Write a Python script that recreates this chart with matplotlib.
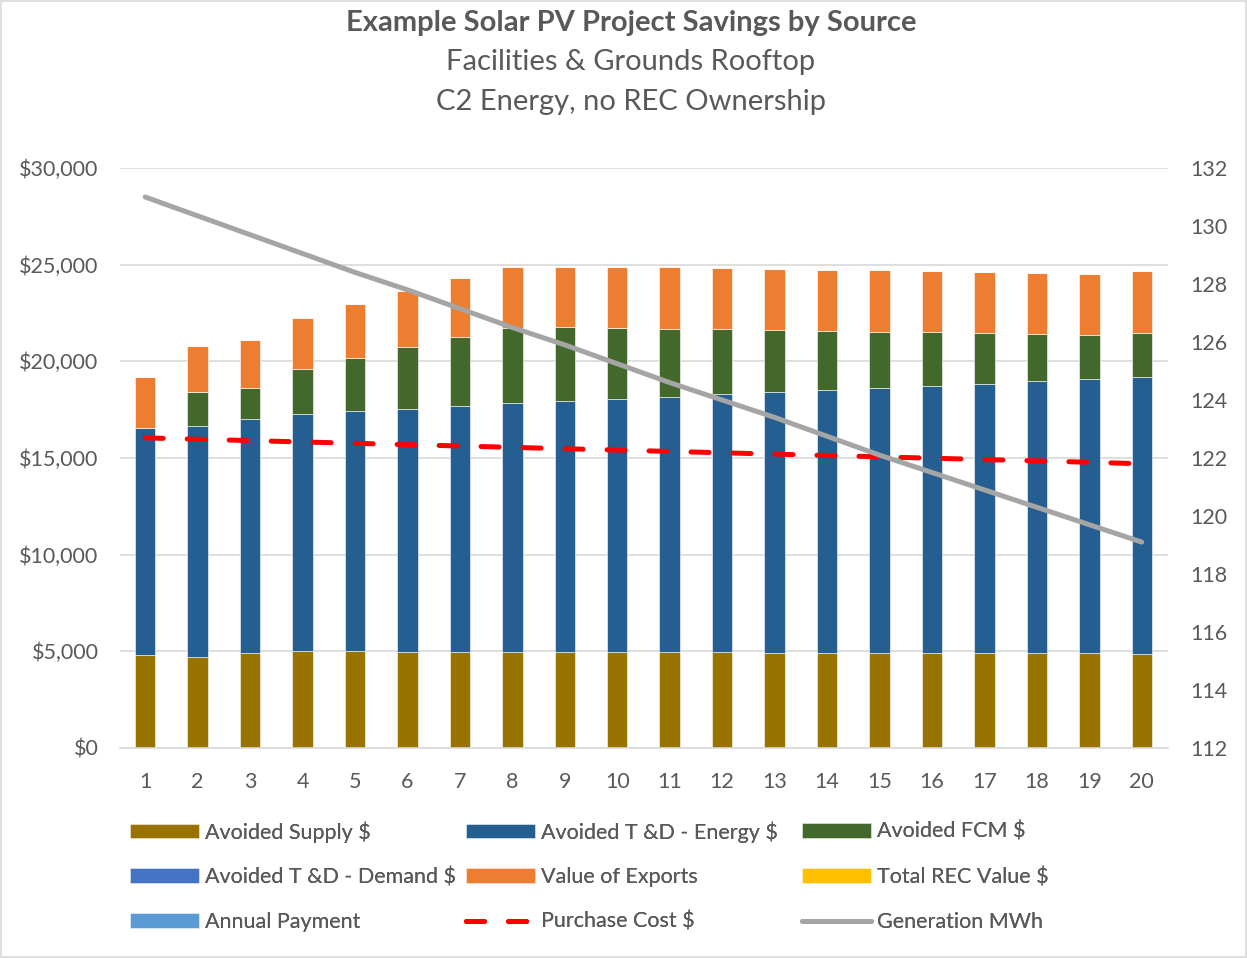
import numpy as np
import matplotlib.pyplot as plt
from matplotlib.patches import Rectangle

plt.rcParams['font.family'] = ['Lato', 'DejaVu Sans']

# project years
years = list(range(1, 21))

# savings by source, $ per year
avoided_supply = [4810, 4700, 4895, 5030, 5000, 4945, 4945, 4945, 4945, 4945,
                  4945, 4945, 4910, 4910, 4910, 4910, 4910, 4895, 4895, 4860]
avoided_td_energy = [11755, 11950, 12105, 12260, 12410, 12570, 12725, 12880, 13000, 13105,
                     13225, 13345, 13485, 13590, 13690, 13810, 13915, 14070, 14175, 14330]
avoided_fcm = [0, 1760, 1635, 2295, 2745, 3210, 3605, 3915, 3830, 3690,
               3520, 3365, 3225, 3070, 2930, 2780, 2655, 2445, 2290, 2290]
avoided_td_demand = [0] * 20
value_of_exports = [2635, 2400, 2465, 2655, 2810, 2925, 3035, 3140, 3120, 3140,
                    3170, 3170, 3155, 3150, 3175, 3155, 3140, 3155, 3170, 3205]
total_rec_value = [0] * 20
annual_payment = [0] * 20

# lines
purchase_cost = [16040, 15970, 15900, 15830, 15760, 15690, 15620, 15550, 15480, 15410,
                 15340, 15270, 15200, 15130, 15060, 14990, 14920, 14850, 14780, 14700]
generation_mwh = [131.0, 130.35, 129.7, 129.05, 128.4, 127.8, 127.15, 126.5, 125.9, 125.25,
                  124.6, 124.0, 123.4, 122.75, 122.1, 121.5, 120.9, 120.3, 119.7, 119.1]

text_col = '#595959'

fig = plt.figure(figsize=(12.47, 9.58), dpi=100)
ax = fig.add_axes([120 / 1247, 1 - 748 / 958, 1048 / 1247, 580 / 958])

# stacked bars
series = [
    (avoided_supply, 'Avoided Supply $', '#997300'),
    (avoided_td_energy, 'Avoided T &D - Energy $', '#255E91'),
    (avoided_fcm, 'Avoided FCM $', '#43682B'),
    (avoided_td_demand, 'Avoided T &D - Demand $', '#4472C4'),
    (value_of_exports, 'Value of Exports', '#ED7D31'),
    (total_rec_value, 'Total REC Value $', '#FFC000'),
    (annual_payment, 'Annual Payment', '#5B9BD5'),
]
bottom = np.zeros(len(years))
handles = {}
for vals, label, col in series:
    b = ax.bar(years, vals, width=0.39, bottom=bottom, color=col, label=label,
               edgecolor='#ffffff', linewidth=0.4, zorder=2)
    handles[label] = b
    bottom += np.array(vals)

pc, = ax.plot(years, purchase_cost, color='#FF0000', lw=3.6, ls=(0, (3.6, 4.8)),
              dash_capstyle='round', label='Purchase Cost $', zorder=4)
handles['Purchase Cost $'] = pc

ax.set_xlim(0.52, 20.5)
ax.set_ylim(0, 30000)
ax.set_yticks(range(0, 30001, 5000))
ax.set_yticklabels(['${:,}'.format(v) for v in range(0, 30001, 5000)])
ax.set_xticks(years)
ax.grid(axis='y', color='#D9D9D9', lw=1.2, zorder=0)
ax.set_axisbelow(True)
for s in ['top', 'left', 'right']:
    ax.spines[s].set_visible(False)
ax.spines['bottom'].set_color('#D9D9D9')
ax.spines['bottom'].set_linewidth(1.2)
ax.tick_params(length=0, labelsize=15.5, labelcolor=text_col)
ax.tick_params(axis='y', pad=15.5)
ax.tick_params(axis='x', pad=17)

# generation on secondary axis
ax2 = ax.twinx()
gl, = ax2.plot(years, generation_mwh, color='#A5A5A5', lw=3.6,
               solid_capstyle='round', label='Generation MWh', zorder=5)
handles['Generation MWh'] = gl
ax2.set_ylim(112, 132)
ax2.set_yticks(range(112, 133, 2))
for s in ['top', 'left', 'right', 'bottom']:
    ax2.spines[s].set_visible(False)
ax2.tick_params(length=0, labelsize=15.5, labelcolor=text_col, pad=16)

# titles
fig.text(631 / 1247, 1 - 23 / 958, 'Example Solar PV Project Savings by Source',
         ha='center', va='center', fontsize=21, fontweight='bold', color=text_col)
fig.text(631 / 1247, 1 - 62 / 958, 'Facilities & Grounds Rooftop',
         ha='center', va='center', fontsize=21, color=text_col)
fig.text(631 / 1247, 1 - 102 / 958, 'C2 Energy, no REC Ownership',
         ha='center', va='center', fontsize=21, color=text_col)

# legend: a 3x3 grid with fixed cells, one entry per cell
legend_rows = [
    ['Avoided Supply $', 'Avoided T &D - Energy $', 'Avoided FCM $'],
    ['Avoided T &D - Demand $', 'Value of Exports', 'Total REC Value $'],
    ['Annual Payment', 'Purchase Cost $', 'Generation MWh'],
]
col_x = [130, 466, 802]
row_y = [832, 877, 922]
for y0, row in zip(row_y, legend_rows):
    for x0, label in zip(col_x, row):
        leg = fig.legend([handles[label]], [label], loc='center left',
                         bbox_to_anchor=(x0 / 1247, 1 - y0 / 958),
                         frameon=False, fontsize=15.5, handlelength=3.2, handleheight=0.65,
                         handletextpad=0.3, borderpad=0, borderaxespad=0)
        leg.get_texts()[0].set_color(text_col)
        fig.add_artist(leg)

# chart border
fig.patches.append(Rectangle((0.001, 0.001), 0.998, 0.998, transform=fig.transFigure,
                             fill=False, edgecolor='#D9D9D9', lw=1.2))

fig.savefig('out.png', dpi=100)
